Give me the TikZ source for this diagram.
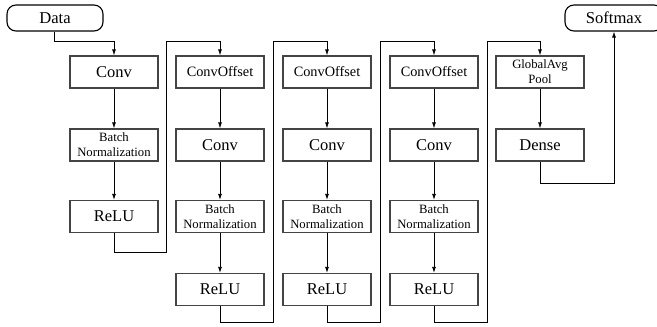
\documentclass[tikz,border=0pt]{standalone}
\usepackage{fontspec}
\setmainfont{Liberation Serif}
\usetikzlibrary{arrows.meta}
\definecolor{boxgray}{HTML}{444444}
\tikzset{
  blk/.style={draw=boxgray, line width=1.2pt, minimum width=88pt, minimum height=32pt, inner sep=0pt, align=center, font=\fontsize{16.5}{18}\selectfont},
  blkmid/.style={blk, font=\fontsize{14.3}{16}\selectfont},
  blksmall/.style={blk, font=\fontsize{12.7}{15}\selectfont},
  term/.style={draw=black, line width=1.1pt, rounded corners=9pt, minimum height=26pt, inner sep=0pt, font=\fontsize{16.6}{18}\selectfont},
  conn/.style={draw=black, line width=0.8pt},
  arr/.style={conn, -{Latex[length=6pt,width=4pt]}}
}
\begin{document}
\begin{tikzpicture}[x=1pt,y=-1pt]
\useasboundingbox (0,0) rectangle (657,327);
\clip (0,0) rectangle (657,327);
% terminals
\node[term, minimum width=96pt] (data) at (55,18) {Data};
\node[term, minimum width=98pt] (soft) at (614,18) {Softmax};
% column 1
\node[blk] (conv1) at (114,72) {Conv};
\node[blksmall] (bn1) at (114,145) {Batch\\Normalization};
\node[blk] (relu1) at (114,216.5) {ReLU};
% column 2
\node[blkmid] (co2) at (220,72) {ConvOffset};
\node[blk] (conv2) at (220,145) {Conv};
\node[blksmall] (bn2) at (220,216.5) {Batch\\Normalization};
\node[blk] (relu2) at (220,289.5) {ReLU};
% column 3
\node[blkmid] (co3) at (327,72) {ConvOffset};
\node[blk] (conv3) at (327,145) {Conv};
\node[blksmall] (bn3) at (327,216.5) {Batch\\Normalization};
\node[blk] (relu3) at (327,289.5) {ReLU};
% column 4
\node[blkmid] (co4) at (434,72) {ConvOffset};
\node[blk] (conv4) at (434,145) {Conv};
\node[blksmall] (bn4) at (434,216.5) {Batch\\Normalization};
\node[blk] (relu4) at (434,289.5) {ReLU};
% column 5
\node[blksmall] (gap) at (540,72) {GlobalAvg\\Pool};
\node[blk] (dense) at (540,145) {Dense};
% routing coordinates
\coordinate (d1) at (54,41);
\coordinate (k1b) at (166,252);
\coordinate (k1t) at (166,41);
\coordinate (k2b) at (273,322);
\coordinate (k2t) at (273,41);
\coordinate (k3b) at (380,322);
\coordinate (k3t) at (380,41);
\coordinate (k4b) at (487,322);
\coordinate (k4t) at (487,41);
\coordinate (k5b) at (614,183);
% connectors
\draw[arr] (data.south -| d1) -- (d1) -| (conv1.north);
\draw[arr] (conv1) -- (bn1);
\draw[arr] (bn1) -- (relu1);
\draw[arr] (relu1.south) |- (k1b) -- (k1t) -| (co2.north);
\draw[arr] (co2) -- (conv2);
\draw[arr] (conv2) -- (bn2);
\draw[arr] (bn2) -- (relu2);
\draw[arr] (relu2.south) |- (k2b) -- (k2t) -| (co3.north);
\draw[arr] (co3) -- (conv3);
\draw[arr] (conv3) -- (bn3);
\draw[arr] (bn3) -- (relu3);
\draw[arr] (relu3.south) |- (k3b) -- (k3t) -| (co4.north);
\draw[arr] (co4) -- (conv4);
\draw[arr] (conv4) -- (bn4);
\draw[arr] (bn4) -- (relu4);
\draw[arr] (relu4.south) |- (k4b) -- (k4t) -| (gap.north);
\draw[arr] (gap) -- (dense);
\draw[arr] (dense.south) |- (k5b) -- (soft.south);
\end{tikzpicture}
\end{document}
